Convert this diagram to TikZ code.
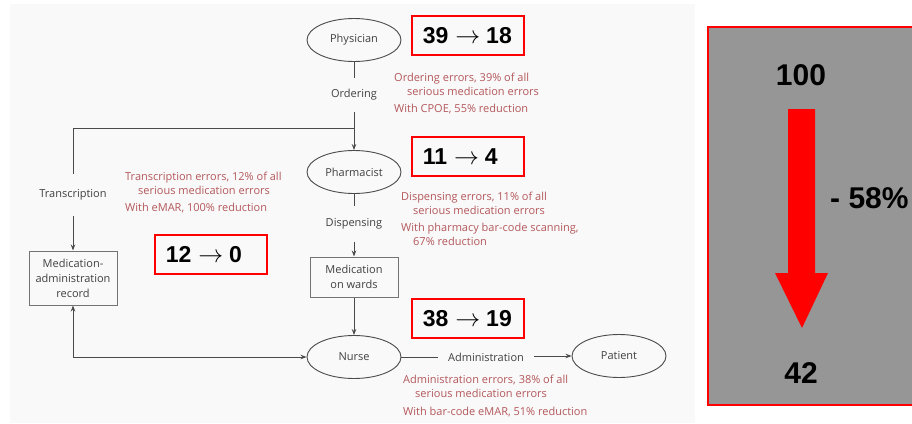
\documentclass[tikz,border=0pt]{standalone}
\usepackage{fontspec}
\setmainfont{Open Sans}
\newfontfamily\arialbold{Liberation Sans}[BoldFont={Liberation Sans Bold}]
\usetikzlibrary{shapes.geometric,arrows.meta,calc}

\definecolor{panel}{HTML}{F9F9F9}
\definecolor{notecol}{HTML}{B4575B}
\definecolor{inkgray}{HTML}{404040}
\definecolor{linegray}{HTML}{4A4A4A}
\definecolor{boxgray}{HTML}{969696}

\newcommand{\flowfont}{\fontsize{11}{15}\selectfont}
% before/after count: "a -> b"
\newcommand{\countpair}[2]{#1\hspace{7pt}{\fontsize{24}{24}\selectfont$\rightarrow$}\hspace{6pt}#2}

\tikzset{
  role/.style={ellipse, draw=linegray, line width=0.9pt, minimum width=94pt,
    minimum height=43pt, inner sep=0pt, font=\flowfont, text=inkgray},
  stage/.style={font=\flowfont, text=inkgray, inner sep=0pt},
  recbox/.style={draw=black!55, line width=1pt, align=center, font=\flowfont,
    text=inkgray, minimum width=88pt, inner sep=0pt},
  note/.style={font=\flowfont, text=notecol, align=left, anchor=north west, inner sep=0pt},
  tally/.style={draw=red, line width=1.5pt, anchor=north west, minimum height=39pt,
    minimum width=112pt, inner xsep=11pt, inner ysep=0pt,
    font=\arialbold\bfseries\fontsize{23}{27}\selectfont},
  bignum/.style={font=\arialbold\bfseries\fontsize{30}{34}\selectfont, inner sep=0pt},
  flow/.style={draw=linegray, line width=0.9pt},
  tip/.style={-{Stealth[length=6pt,width=4.5pt]}},
}

\begin{document}
\begin{tikzpicture}[x=1pt,y=-1pt]
  \useasboundingbox (0,0) rectangle (912,423);

  % left panel background
  \fill[panel] (10,4) rectangle (695,423);

  % actors
  \node[role] (phys)    at (354,40)  {\raisebox{-2pt}{Physician}};
  \node[role] (pharm)   at (354,172) {\raisebox{-1pt}{Pharmacist}};
  \node[role] (nurse)   at (354,357) {\raisebox{-2pt}{Nurse}};
  \node[role] (patient) at (619,356) {\raisebox{-1pt}{Patient}};

  % records
  \node[recbox, minimum height=54pt] (mar)   at (73,278)  {Medication-\\administration\\record};
  \node[recbox, minimum height=40pt] (wards) at (354,277) {Medication\\on wards};

  % stage labels sitting in the connectors
  \node[stage, inner ysep=11pt] (ordering) at (354,95)  {Ordering};
  \node[stage, inner ysep=15pt] (transcr)  at (73,195)  {Transcription};
  \node[stage, inner ysep=12pt] (dispens)  at (354,224) {Dispensing};
  \node[stage, inner xsep=10pt] (admin)    at (486,357) {Administration};

  \coordinate (split) at (354,128);

  % connectors
  \draw[flow] (phys.south) -- (ordering.north);
  \draw[flow, tip] (ordering.south) -- (pharm.north);
  \draw[flow] (split) -- (split -| transcr) -- (transcr.north);
  \draw[flow, tip] (transcr.south) -- (mar.north);
  \draw[flow] (pharm.south) -- (dispens.north);
  \draw[flow, tip] (dispens.south) -- (wards.north);
  \draw[flow, tip] (wards.south) -- (nurse.north);
  \draw[flow, {Stealth[length=6pt,width=4.5pt]}-{Stealth[length=6pt,width=4.5pt]}]
    (mar.south) |- (nurse.west);
  \draw[flow] (nurse.east) -- (admin.west |- nurse.east);
  \draw[flow, tip] (admin.east |- patient.west) -- (patient.west);

  % error notes
  \node[note] (ordnote) at (394,73) {Ordering errors, 39\% of all\\[-1pt]
    \hspace*{13pt}serious medication errors\\[2pt]With CPOE, 55\% reduction};
  \node[note] (trnote) at (125,172) {Transcription errors, 12\% of all\\[-1pt]
    \hspace*{13pt}serious medication errors\\[2pt]With eMAR, 100\% reduction};
  \node[note] (dispnote) at (401,192) {Dispensing errors, 11\% of all\\[-1pt]
    \hspace*{12pt}serious medication errors\\[2pt]With pharmacy bar-code scanning,\\[-1pt]
    \hspace*{12pt}67\% reduction};
  \node[note] (adnote) at (403,375) {Administration errors, 38\% of all\\[-1pt]
    \hspace*{12pt}serious medication errors\\[3pt]With bar-code eMAR, 51\% reduction};

  % before/after counts
  \node[tally] (t1) at (411,15)  {\makebox[90pt][l]{\countpair{39}{18}}};
  \node[tally] (t2) at (411,136) {\makebox[90pt][l]{\countpair{11}{4}}};
  \node[tally] (t3) at (154,234) {\makebox[90pt][l]{\countpair{12}{0}}};
  \node[tally] (t4) at (411,298) {\makebox[90pt][l]{\countpair{38}{19}}};

  % overall reduction panel
  \filldraw[fill=boxgray, draw=red, line width=1.5pt] (708,27) rectangle (930,405);
  \fill[red] (788,109) -- (815,109) -- (815,273) -- (828,273) -- (802,328)
    -- (775,273) -- (788,273) -- cycle;
  \node[bignum] (before) at (801,75)  {100};
  \node[bignum] (after)  at (801,373) {42};
  \node[bignum, anchor=west] (drop) at (830,198) {- 58\%};
\end{tikzpicture}
\end{document}
